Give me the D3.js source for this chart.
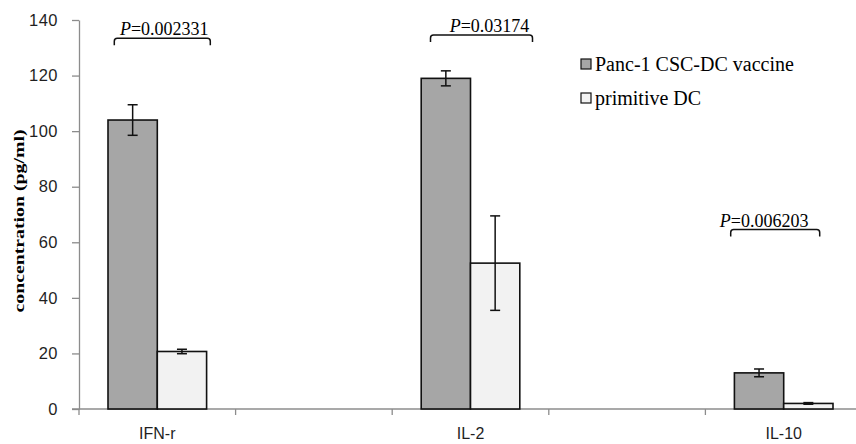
<!DOCTYPE html>
<html>
<head>
<meta charset="utf-8">
<script src="https://cdn.jsdelivr.net/npm/d3@7"></script>
<style>
  html, body { margin: 0; padding: 0; background: #fff; }
  svg { display: block; }
</style>
</head>
<body>
<svg id="chart" width="856" height="444"></svg>
<script>
// Cytokine secretion by dendritic cells (pg/ml)
const cytokines = ["IFN-r", "IL-2", "IL-10"];
const seriesNames = ["Panc-1 CSC-DC vaccine", "primitive DC"];
const vaccineMean = [104, 119, 13];
const vaccineErr  = [5.5, 2.7, 1.4];
const primitiveMean = [20.7, 52.5, 2.0];
const primitiveErr  = [0.8, 17, 0.3];
const yTicks = [0, 20, 40, 60, 80, 100, 120, 140];
const pLabels = ["0.002331", "0.03174", "0.006203"];
const pLevels = [133.4, 134.6, 64.6];

const fills = ["#a6a6a6", "#f2f2f2"];
const axisColor = "#8c8c8c";
const textColor = "#1f1f1f";
const sansFont = "'Liberation Sans', Arial, sans-serif";
const serifFont = "'Liberation Serif', 'Times New Roman', serif";

const svg = d3.select("#chart");
const plotLeft = 79, plotTop = 20, plotBottom = 409, plotRight = 862;

// Excel-style category axis: an empty slot sits between each labelled group
const slots = [];
cytokines.forEach((c, i) => { if (i > 0) slots.push("_gap" + i); slots.push(c); });

const x = d3.scaleBand().domain(slots).range([plotLeft, plotRight]).padding(0);
const y = d3.scaleLinear().domain([0, 140]).range([plotBottom, plotTop]);
const barW = 49.3;

// y axis
const yAxis = svg.append("g")
  .attr("transform", `translate(${plotLeft},0)`)
  .call(d3.axisLeft(y).tickValues(yTicks).tickSize(7).tickSizeOuter(0).tickPadding(14));
yAxis.select(".domain").attr("stroke", axisColor).attr("stroke-width", 1.3);
yAxis.selectAll(".tick line").attr("stroke", axisColor).attr("stroke-width", 1.3);
yAxis.selectAll(".tick text")
  .attr("fill", textColor)
  .style("font-family", sansFont)
  .style("font-size", "16.5px")
  .style("letter-spacing", "0.5px");

// x axis line and category boundary ticks
const xAxis = svg.append("g");
xAxis.append("line")
  .attr("x1", plotLeft - 7).attr("x2", 856)
  .attr("y1", y(0)).attr("y2", y(0))
  .attr("stroke", axisColor).attr("stroke-width", 1.3);
const boundaries = slots.map(s => x(s)).concat([x.range()[1]]);
xAxis.selectAll("line.bt").data(boundaries).join("line")
  .attr("class", "bt")
  .attr("x1", d => d).attr("x2", d => d)
  .attr("y1", y(0)).attr("y2", y(0) + 6)
  .attr("stroke", axisColor).attr("stroke-width", 1.3);
xAxis.selectAll("text").data(cytokines).join("text")
  .attr("x", d => x(d) + x.bandwidth() / 2)
  .attr("y", 439)
  .attr("text-anchor", "middle")
  .attr("fill", textColor)
  .style("font-family", sansFont)
  .style("font-size", "16px")
  .text(d => d);

// y axis title
svg.append("text")
  .attr("transform", `translate(24,221) rotate(-90)`)
  .attr("text-anchor", "middle")
  .attr("textLength", 183)
  .attr("lengthAdjust", "spacingAndGlyphs")
  .style("font-family", serifFont)
  .style("font-weight", "bold")
  .style("font-size", "15px")
  .attr("fill", "#000")
  .text("concentration (pg/ml)");

// bars
const rows = [];
cytokines.forEach((c, i) => {
  rows.push({ cat: c, s: 0, v: vaccineMean[i], e: vaccineErr[i] });
  rows.push({ cat: c, s: 1, v: primitiveMean[i], e: primitiveErr[i] });
});
const bx = d => x(d.cat) + x.bandwidth() / 2 + (d.s === 0 ? -barW : 0);

svg.append("g").selectAll("rect").data(rows).join("rect")
  .attr("x", bx)
  .attr("y", d => y(d.v))
  .attr("width", barW)
  .attr("height", d => y(0) - y(d.v))
  .attr("fill", d => fills[d.s])
  .attr("stroke", "#111")
  .attr("stroke-width", 1.6);

// error bars
const eb = svg.append("g").attr("stroke", "#111").attr("stroke-width", 1.5);
rows.forEach(d => {
  const cx = bx(d) + barW / 2;
  const cap = 5;
  eb.append("line").attr("x1", cx).attr("x2", cx).attr("y1", y(d.v + d.e)).attr("y2", y(d.v - d.e));
  eb.append("line").attr("x1", cx - cap).attr("x2", cx + cap).attr("y1", y(d.v + d.e)).attr("y2", y(d.v + d.e));
  eb.append("line").attr("x1", cx - cap).attr("x2", cx + cap).attr("y1", y(d.v - d.e)).attr("y2", y(d.v - d.e));
});

// significance brackets
const bracketSpan = [[-43, 53], [-40, 62], [-53, 36]];
const labelShift = [7, 13, -6];
const ann = svg.append("g");
cytokines.forEach((c, i) => {
  const cx = x(c) + x.bandwidth() / 2;
  const x0 = cx + bracketSpan[i][0], x1 = cx + bracketSpan[i][1];
  const yy = y(pLevels[i]);
  const r = 3, h = 7;
  ann.append("path")
    .attr("d", `M${x0},${yy + h} L${x0},${yy + r} Q${x0},${yy} ${x0 + r},${yy} L${x1 - r},${yy} Q${x1},${yy} ${x1},${yy + r} L${x1},${yy + h}`)
    .attr("fill", "none").attr("stroke", "#111").attr("stroke-width", 1.5);
  const t = ann.append("text")
    .attr("x", (x0 + x1) / 2 + labelShift[i] - 5)
    .attr("y", yy - 3)
    .attr("text-anchor", "middle")
    .style("font-family", serifFont)
    .style("font-size", "18px")
    .attr("fill", "#000");
  t.append("tspan").style("font-style", "italic").text("P");
  t.append("tspan").text("=" + pLabels[i]);
});

// legend
const lg = svg.append("g");
seriesNames.forEach((name, i) => {
  const cy = 64 + i * 34;
  lg.append("rect")
    .attr("x", 581).attr("y", cy - 5).attr("width", 10).attr("height", 10)
    .attr("fill", fills[i]).attr("stroke", "#111").attr("stroke-width", 1.2);
  lg.append("text")
    .attr("x", 595).attr("y", cy + 7)
    .style("font-family", serifFont)
    .style("font-size", "20px")
    .attr("fill", "#000")
    .text(name);
});
</script>
</body>
</html>
